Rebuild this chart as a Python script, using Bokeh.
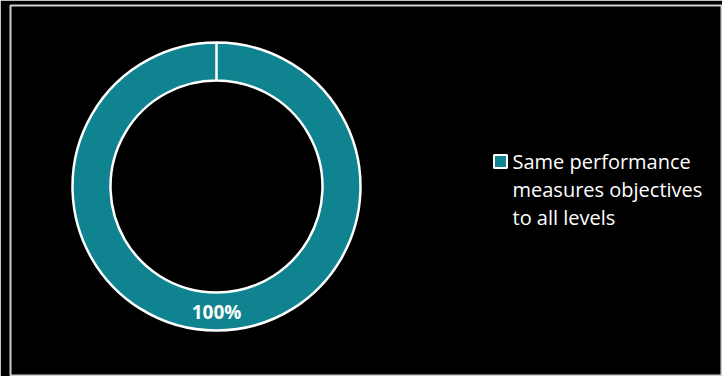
import numpy as np
from bokeh.plotting import figure
from bokeh.models import Range1d
from bokeh.core.properties import value
from bokeh.embed import file_html
from bokeh.resources import INLINE

categories = ["Same performance\nmeasures objectives\nto all levels"]
shares = [100.0]
colors = ["#0f838f"]
labels = ["100%"]

W, H = 722, 376
p = figure(width=W, height=H, output_backend="svg", toolbar_location=None,
           x_range=Range1d(10, 722), y_range=Range1d(1, 371),
           min_border_left=10, min_border_top=5, min_border_bottom=1, min_border_right=0)
p.background_fill_color = "black"
p.border_fill_color = "black"
p.outline_line_color = "#d0d0d0"
p.outline_line_width = 2
p.axis.visible = False
p.grid.visible = False

cx, cy = 216, 190
r_out, r_in = 144, 106

total = sum(shares)
fr = np.array(shares) / total
ends = np.pi / 2 - 2 * np.pi * np.cumsum(fr)
starts = np.concatenate([[np.pi / 2], ends[:-1]])
ends = ends + 1e-4

p.annular_wedge(x=cx, y=cy, inner_radius=r_in, outer_radius=r_out,
                start_angle=starts, end_angle=ends, direction="clock",
                inner_radius_units="screen", outer_radius_units="screen",
                fill_color=colors, line_color="white", line_width=2.5)

# percentage labels in the middle of each slice's arc
mid = (starts + ends) / 2
rm = (r_in + r_out) / 2
p.text(x=[cx + rm * np.cos(a) for a in mid], y=[cy + rm * np.sin(a) for a in mid],
       text=labels, text_color="white", text_font=value("Open Sans"),
       text_font_style="bold", text_font_size="19px",
       text_align="center", text_baseline="middle")

# legend
p.scatter(x=[500], y=[215], marker="square", size=13, fill_color=colors[0],
          line_color="white", line_width=2)
p.text(x=[512], y=[229], text=categories, text_color="white",
       text_font=value("Open Sans"), text_font_size="20px",
       text_align="left", text_baseline="top", text_line_height=1.05)

open("out.html", "w").write(file_html(p, INLINE))
